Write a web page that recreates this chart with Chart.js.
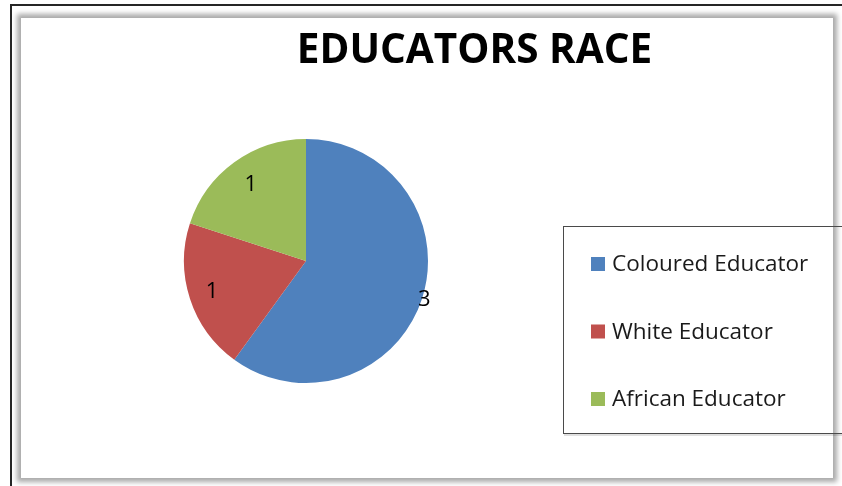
<!DOCTYPE html>
<html>
<head>
<meta charset="utf-8">
<script src="https://cdn.jsdelivr.net/npm/chart.js@4/dist/chart.umd.min.js"></script>
<style>
  html, body { margin: 0; padding: 0; background: #ffffff; }
  #wrap { position: relative; width: 842px; height: 486px; overflow: hidden; background: #ffffff; }
  #edge { position: absolute; left: 10px; top: 4px; right: -4px; bottom: -4px;
          border-top: 2px solid #262626; border-left: 2px solid #262626; }
  #panel { position: absolute; left: 21px; top: 18px; width: 812px; height: 460px;
           background: #ffffff; box-shadow: 0 0 5px 4px rgba(0,0,0,0.34); }
  #c { position: absolute; left: 0; top: 0; }
</style>
</head>
<body>
<div id="wrap">
  <div id="edge"></div>
  <div id="panel"></div>
  <canvas id="c" width="842" height="486"></canvas>
</div>
<script>
// Educators by race
const categories = ['Coloured Educator', 'White Educator', 'African Educator'];
const educatorCounts = [3, 1, 1];
const sliceColors = ['#4F81BD', '#C0504D', '#9BBB59'];
const chartTitle = 'EDUCATORS RACE';

// Value labels placed along each slice's middle angle
const valueLabels = {
  id: 'valueLabels',
  afterDatasetsDraw(chart, args, opts) {
    const ctx = chart.ctx;
    const meta = chart.getDatasetMeta(0);
    ctx.save();
    ctx.font = opts.font;
    ctx.fillStyle = '#000';
    ctx.textAlign = 'center';
    ctx.textBaseline = 'middle';
    meta.data.forEach((arc, i) => {
      const p = arc.getProps(['x', 'y', 'startAngle', 'endAngle', 'outerRadius'], true);
      const mid = (p.startAngle + p.endAngle) / 2;
      const r = p.outerRadius * opts.radial[i];
      ctx.fillText(String(chart.data.datasets[0].data[i]), p.x + Math.cos(mid) * r, p.y + Math.sin(mid) * r);
    });
    ctx.restore();
  }
};

// Heading and boxed legend
const titleAndLegend = {
  id: 'titleAndLegend',
  afterDraw(chart, args, opts) {
    const ctx = chart.ctx;
    ctx.save();
    ctx.fillStyle = '#000';
    ctx.font = opts.titleFont;
    ctx.textAlign = 'center';
    ctx.textBaseline = 'middle';
    ctx.fillText(opts.title, opts.titleX, opts.titleY);

    const b = opts.box;
    ctx.strokeStyle = 'rgba(0,0,0,0.12)';
    ctx.lineWidth = 2;
    ctx.beginPath();
    ctx.moveTo(b.x + 1, b.y + b.h + 2);
    ctx.lineTo(b.x + b.w, b.y + b.h + 2);
    ctx.stroke();
    ctx.strokeStyle = '#4a4a4a';
    ctx.lineWidth = 1;
    ctx.strokeRect(b.x + 0.5, b.y + 0.5, b.w, b.h);

    ctx.font = opts.itemFont;
    ctx.textAlign = 'left';
    const colors = chart.data.datasets[0].backgroundColor;
    chart.data.labels.forEach((lab, i) => {
      const cy = opts.firstY + i * opts.step;
      ctx.fillStyle = colors[i];
      ctx.fillRect(opts.swatchX, cy - 7, 14, 14);
      ctx.fillStyle = '#1a1a1a';
      ctx.fillText(lab, opts.textX, cy + 1);
    });
    ctx.restore();
  }
};

new Chart(document.getElementById('c'), {
  type: 'pie',
  data: {
    labels: categories,
    datasets: [{
      data: educatorCounts,
      backgroundColor: sliceColors,
      borderWidth: 0
    }]
  },
  options: {
    responsive: false,
    animation: false,
    events: [],
    layout: { padding: { left: 184, right: 414, top: 139, bottom: 103 } },
    plugins: {
      legend: { display: false },
      title: { display: false },
      tooltip: { enabled: false },
      valueLabels: { font: '22px "Open Sans"', radial: [1.02, 0.81, 0.77] },
      titleAndLegend: {
        title: chartTitle,
        titleFont: 'bold 40.5px "Open Sans"',
        titleX: 474.5,
        titleY: 51,
        box: { x: 563, y: 226, w: 290, h: 207 },
        itemFont: '22.5px "Open Sans"',
        swatchX: 591,
        textX: 612,
        firstY: 264,
        step: 67.5
      }
    }
  },
  plugins: [valueLabels, titleAndLegend]
});
</script>
</body>
</html>
